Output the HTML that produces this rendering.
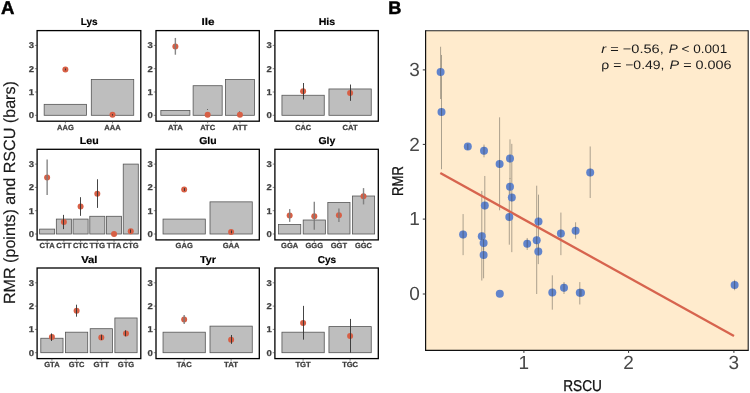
<!DOCTYPE html><html><head><meta charset="utf-8"><style>html,body{margin:0;padding:0;background:#fff;width:750px;height:393px;overflow:hidden}svg{display:block;will-change:transform}text{font-family:"Liberation Sans",sans-serif;text-rendering:geometricPrecision}</style></head><body>
<svg width="750" height="393" viewBox="0 0 750 393">
<rect x="0" y="0" width="750" height="393" fill="#fff"/>
<text x="0.9" y="14.0" font-size="18.6" font-weight="bold" fill="#000" stroke="#000" stroke-width="0.45">A</text>
<text transform="translate(15.1,192.6) rotate(-90)" text-anchor="middle" font-size="16.2" fill="#1a1a1a" stroke="#1a1a1a" stroke-width="0.15" textLength="223" lengthAdjust="spacingAndGlyphs">RMR (points) and RSCU (bars)</text>
<text x="89.25" y="25.10" text-anchor="middle" font-size="10.0" font-weight="bold" fill="#000" stroke="#000" stroke-width="0.2" textLength="16.89" lengthAdjust="spacingAndGlyphs">Lys</text>
<rect x="44.17" y="104.35" width="42.42" height="10.95" fill="#bebebe" stroke="#555" stroke-width="0.8"/>
<rect x="91.31" y="79.42" width="42.42" height="35.88" fill="#bebebe" stroke="#555" stroke-width="0.8"/>
<circle cx="65.38" cy="69.40" r="3.0" fill="#d75f45"/>
<line x1="65.50" y1="68.47" x2="65.50" y2="70.33" stroke="#303030" stroke-width="0.9"/>
<circle cx="112.52" cy="114.83" r="3.0" fill="#d75f45"/>
<line x1="112.50" y1="114.14" x2="112.50" y2="115.53" stroke="#303030" stroke-width="0.9"/>
<rect x="37.1" y="30.6" width="103.70" height="90.6" fill="none" stroke="#000" stroke-width="1.3"/>
<line x1="34.90" y1="115.30" x2="37.10" y2="115.30" stroke="#333" stroke-width="0.6"/>
<text transform="translate(34.00,118.35) scale(1.12,1)" text-anchor="end" font-size="8.5" font-weight="bold" fill="#3f3f3f" stroke="#3f3f3f" stroke-width="0.25">0</text>
<line x1="34.90" y1="92.00" x2="37.10" y2="92.00" stroke="#333" stroke-width="0.6"/>
<text transform="translate(34.00,95.05) scale(1.12,1)" text-anchor="end" font-size="8.5" font-weight="bold" fill="#3f3f3f" stroke="#3f3f3f" stroke-width="0.25">1</text>
<line x1="34.90" y1="68.70" x2="37.10" y2="68.70" stroke="#333" stroke-width="0.6"/>
<text transform="translate(34.00,71.75) scale(1.12,1)" text-anchor="end" font-size="8.5" font-weight="bold" fill="#3f3f3f" stroke="#3f3f3f" stroke-width="0.25">2</text>
<line x1="34.90" y1="45.40" x2="37.10" y2="45.40" stroke="#333" stroke-width="0.6"/>
<text transform="translate(34.00,48.45) scale(1.12,1)" text-anchor="end" font-size="8.5" font-weight="bold" fill="#3f3f3f" stroke="#3f3f3f" stroke-width="0.25">3</text>
<line x1="65.38" y1="121.20" x2="65.38" y2="123.40" stroke="#333" stroke-width="0.6"/>
<text x="65.38" y="129.60" text-anchor="middle" font-size="7.4" font-weight="bold" fill="#3f3f3f" stroke="#3f3f3f" stroke-width="0.25" textLength="16.82" lengthAdjust="spacingAndGlyphs">AAG</text>
<line x1="112.52" y1="121.20" x2="112.52" y2="123.40" stroke="#333" stroke-width="0.6"/>
<text x="112.52" y="129.60" text-anchor="middle" font-size="7.4" font-weight="bold" fill="#3f3f3f" stroke="#3f3f3f" stroke-width="0.25" textLength="16.48" lengthAdjust="spacingAndGlyphs">AAA</text>
<text x="207.95" y="25.10" text-anchor="middle" font-size="10.0" font-weight="bold" fill="#000" stroke="#000" stroke-width="0.2" textLength="12.96" lengthAdjust="spacingAndGlyphs">Ile</text>
<rect x="160.84" y="110.41" width="29.05" height="4.89" fill="#bebebe" stroke="#555" stroke-width="0.8"/>
<rect x="193.12" y="85.71" width="29.05" height="29.59" fill="#bebebe" stroke="#555" stroke-width="0.8"/>
<rect x="225.40" y="79.42" width="29.05" height="35.88" fill="#bebebe" stroke="#555" stroke-width="0.8"/>
<circle cx="175.37" cy="46.40" r="3.0" fill="#d75f45"/>
<line x1="175.37" y1="37.94" x2="175.37" y2="54.72" stroke="#7a7a7a" stroke-opacity="0.9" stroke-width="1.4"/>
<circle cx="207.65" cy="114.83" r="3.0" fill="#d75f45"/>
<line x1="207.50" y1="109.01" x2="207.50" y2="109.71" stroke="#303030" stroke-width="0.9"/>
<circle cx="239.93" cy="114.83" r="3.0" fill="#d75f45"/>
<line x1="239.50" y1="111.11" x2="239.50" y2="111.57" stroke="#303030" stroke-width="0.9"/>
<rect x="156.0" y="30.6" width="103.30" height="90.6" fill="none" stroke="#000" stroke-width="1.3"/>
<line x1="153.80" y1="115.30" x2="156.00" y2="115.30" stroke="#333" stroke-width="0.6"/>
<text transform="translate(152.90,118.35) scale(1.12,1)" text-anchor="end" font-size="8.5" font-weight="bold" fill="#3f3f3f" stroke="#3f3f3f" stroke-width="0.25">0</text>
<line x1="153.80" y1="92.00" x2="156.00" y2="92.00" stroke="#333" stroke-width="0.6"/>
<text transform="translate(152.90,95.05) scale(1.12,1)" text-anchor="end" font-size="8.5" font-weight="bold" fill="#3f3f3f" stroke="#3f3f3f" stroke-width="0.25">1</text>
<line x1="153.80" y1="68.70" x2="156.00" y2="68.70" stroke="#333" stroke-width="0.6"/>
<text transform="translate(152.90,71.75) scale(1.12,1)" text-anchor="end" font-size="8.5" font-weight="bold" fill="#3f3f3f" stroke="#3f3f3f" stroke-width="0.25">2</text>
<line x1="153.80" y1="45.40" x2="156.00" y2="45.40" stroke="#333" stroke-width="0.6"/>
<text transform="translate(152.90,48.45) scale(1.12,1)" text-anchor="end" font-size="8.5" font-weight="bold" fill="#3f3f3f" stroke="#3f3f3f" stroke-width="0.25">3</text>
<line x1="175.37" y1="121.20" x2="175.37" y2="123.40" stroke="#333" stroke-width="0.6"/>
<text x="175.37" y="129.60" text-anchor="middle" font-size="7.4" font-weight="bold" fill="#3f3f3f" stroke="#3f3f3f" stroke-width="0.25" textLength="14.73" lengthAdjust="spacingAndGlyphs">ATA</text>
<line x1="207.65" y1="121.20" x2="207.65" y2="123.40" stroke="#333" stroke-width="0.6"/>
<text x="207.65" y="129.60" text-anchor="middle" font-size="7.4" font-weight="bold" fill="#3f3f3f" stroke="#3f3f3f" stroke-width="0.25" textLength="15.00" lengthAdjust="spacingAndGlyphs">ATC</text>
<line x1="239.93" y1="121.20" x2="239.93" y2="123.40" stroke="#333" stroke-width="0.6"/>
<text x="239.93" y="129.60" text-anchor="middle" font-size="7.4" font-weight="bold" fill="#3f3f3f" stroke="#3f3f3f" stroke-width="0.25" textLength="14.79" lengthAdjust="spacingAndGlyphs">ATT</text>
<text x="326.90" y="25.10" text-anchor="middle" font-size="10.0" font-weight="bold" fill="#000" stroke="#000" stroke-width="0.2" textLength="16.51" lengthAdjust="spacingAndGlyphs">His</text>
<rect x="281.95" y="95.26" width="42.30" height="20.04" fill="#bebebe" stroke="#555" stroke-width="0.8"/>
<rect x="328.95" y="88.97" width="42.30" height="26.33" fill="#bebebe" stroke="#555" stroke-width="0.8"/>
<circle cx="303.10" cy="91.30" r="3.0" fill="#d75f45"/>
<line x1="303.50" y1="83.01" x2="303.50" y2="99.50" stroke="#303030" stroke-width="0.9"/>
<circle cx="350.10" cy="92.93" r="3.0" fill="#d75f45"/>
<line x1="350.50" y1="84.54" x2="350.50" y2="100.85" stroke="#303030" stroke-width="0.9"/>
<rect x="274.9" y="30.6" width="103.40" height="90.6" fill="none" stroke="#000" stroke-width="1.3"/>
<line x1="272.70" y1="115.30" x2="274.90" y2="115.30" stroke="#333" stroke-width="0.6"/>
<text transform="translate(271.80,118.35) scale(1.12,1)" text-anchor="end" font-size="8.5" font-weight="bold" fill="#3f3f3f" stroke="#3f3f3f" stroke-width="0.25">0</text>
<line x1="272.70" y1="92.00" x2="274.90" y2="92.00" stroke="#333" stroke-width="0.6"/>
<text transform="translate(271.80,95.05) scale(1.12,1)" text-anchor="end" font-size="8.5" font-weight="bold" fill="#3f3f3f" stroke="#3f3f3f" stroke-width="0.25">1</text>
<line x1="272.70" y1="68.70" x2="274.90" y2="68.70" stroke="#333" stroke-width="0.6"/>
<text transform="translate(271.80,71.75) scale(1.12,1)" text-anchor="end" font-size="8.5" font-weight="bold" fill="#3f3f3f" stroke="#3f3f3f" stroke-width="0.25">2</text>
<line x1="272.70" y1="45.40" x2="274.90" y2="45.40" stroke="#333" stroke-width="0.6"/>
<text transform="translate(271.80,48.45) scale(1.12,1)" text-anchor="end" font-size="8.5" font-weight="bold" fill="#3f3f3f" stroke="#3f3f3f" stroke-width="0.25">3</text>
<line x1="303.10" y1="121.20" x2="303.10" y2="123.40" stroke="#333" stroke-width="0.6"/>
<text x="303.10" y="129.60" text-anchor="middle" font-size="7.4" font-weight="bold" fill="#3f3f3f" stroke="#3f3f3f" stroke-width="0.25" textLength="15.92" lengthAdjust="spacingAndGlyphs">CAC</text>
<line x1="350.10" y1="121.20" x2="350.10" y2="123.40" stroke="#333" stroke-width="0.6"/>
<text x="350.10" y="129.60" text-anchor="middle" font-size="7.4" font-weight="bold" fill="#3f3f3f" stroke="#3f3f3f" stroke-width="0.25" textLength="15.00" lengthAdjust="spacingAndGlyphs">CAT</text>
<text x="89.25" y="143.80" text-anchor="middle" font-size="10.0" font-weight="bold" fill="#000" stroke="#000" stroke-width="0.2" textLength="18.85" lengthAdjust="spacingAndGlyphs">Leu</text>
<rect x="39.61" y="229.11" width="15.05" height="4.89" fill="#bebebe" stroke="#555" stroke-width="0.8"/>
<rect x="56.33" y="219.09" width="15.05" height="14.91" fill="#bebebe" stroke="#555" stroke-width="0.8"/>
<rect x="73.06" y="219.09" width="15.05" height="14.91" fill="#bebebe" stroke="#555" stroke-width="0.8"/>
<rect x="89.79" y="216.29" width="15.05" height="17.71" fill="#bebebe" stroke="#555" stroke-width="0.8"/>
<rect x="106.51" y="216.29" width="15.05" height="17.71" fill="#bebebe" stroke="#555" stroke-width="0.8"/>
<rect x="123.24" y="164.10" width="15.05" height="69.90" fill="#bebebe" stroke="#555" stroke-width="0.8"/>
<circle cx="47.14" cy="177.61" r="3.0" fill="#d75f45"/>
<line x1="47.14" y1="159.44" x2="47.14" y2="195.09" stroke="#7a7a7a" stroke-opacity="0.9" stroke-width="1.4"/>
<circle cx="63.86" cy="222.12" r="3.0" fill="#d75f45"/>
<line x1="63.50" y1="214.89" x2="63.50" y2="229.11" stroke="#303030" stroke-width="0.9"/>
<circle cx="80.59" cy="206.51" r="3.0" fill="#d75f45"/>
<line x1="80.50" y1="197.19" x2="80.50" y2="215.83" stroke="#303030" stroke-width="0.9"/>
<circle cx="97.31" cy="193.69" r="3.0" fill="#d75f45"/>
<line x1="97.50" y1="179.25" x2="97.50" y2="207.90" stroke="#303030" stroke-width="0.9"/>
<circle cx="114.04" cy="234.00" r="3.0" fill="#d75f45"/>
<circle cx="130.76" cy="231.20" r="3.0" fill="#d75f45"/>
<line x1="130.50" y1="229.57" x2="130.50" y2="232.84" stroke="#303030" stroke-width="0.9"/>
<rect x="37.1" y="149.3" width="103.70" height="90.6" fill="none" stroke="#000" stroke-width="1.3"/>
<line x1="34.90" y1="234.00" x2="37.10" y2="234.00" stroke="#333" stroke-width="0.6"/>
<text transform="translate(34.00,237.05) scale(1.12,1)" text-anchor="end" font-size="8.5" font-weight="bold" fill="#3f3f3f" stroke="#3f3f3f" stroke-width="0.25">0</text>
<line x1="34.90" y1="210.70" x2="37.10" y2="210.70" stroke="#333" stroke-width="0.6"/>
<text transform="translate(34.00,213.75) scale(1.12,1)" text-anchor="end" font-size="8.5" font-weight="bold" fill="#3f3f3f" stroke="#3f3f3f" stroke-width="0.25">1</text>
<line x1="34.90" y1="187.40" x2="37.10" y2="187.40" stroke="#333" stroke-width="0.6"/>
<text transform="translate(34.00,190.45) scale(1.12,1)" text-anchor="end" font-size="8.5" font-weight="bold" fill="#3f3f3f" stroke="#3f3f3f" stroke-width="0.25">2</text>
<line x1="34.90" y1="164.10" x2="37.10" y2="164.10" stroke="#333" stroke-width="0.6"/>
<text transform="translate(34.00,167.15) scale(1.12,1)" text-anchor="end" font-size="8.5" font-weight="bold" fill="#3f3f3f" stroke="#3f3f3f" stroke-width="0.25">3</text>
<line x1="47.14" y1="239.90" x2="47.14" y2="242.10" stroke="#333" stroke-width="0.6"/>
<text x="47.14" y="248.30" text-anchor="middle" font-size="7.4" font-weight="bold" fill="#3f3f3f" stroke="#3f3f3f" stroke-width="0.25" textLength="15.00" lengthAdjust="spacingAndGlyphs">CTA</text>
<line x1="63.86" y1="239.90" x2="63.86" y2="242.10" stroke="#333" stroke-width="0.6"/>
<text x="63.86" y="248.30" text-anchor="middle" font-size="7.4" font-weight="bold" fill="#3f3f3f" stroke="#3f3f3f" stroke-width="0.25" textLength="15.06" lengthAdjust="spacingAndGlyphs">CTT</text>
<line x1="80.59" y1="239.90" x2="80.59" y2="242.10" stroke="#333" stroke-width="0.6"/>
<text x="80.59" y="248.30" text-anchor="middle" font-size="7.4" font-weight="bold" fill="#3f3f3f" stroke="#3f3f3f" stroke-width="0.25" textLength="15.26" lengthAdjust="spacingAndGlyphs">CTC</text>
<line x1="97.31" y1="239.90" x2="97.31" y2="242.10" stroke="#333" stroke-width="0.6"/>
<text x="97.31" y="248.30" text-anchor="middle" font-size="7.4" font-weight="bold" fill="#3f3f3f" stroke="#3f3f3f" stroke-width="0.25" textLength="15.68" lengthAdjust="spacingAndGlyphs">TTG</text>
<line x1="114.04" y1="239.90" x2="114.04" y2="242.10" stroke="#333" stroke-width="0.6"/>
<text x="114.04" y="248.30" text-anchor="middle" font-size="7.4" font-weight="bold" fill="#3f3f3f" stroke="#3f3f3f" stroke-width="0.25" textLength="14.79" lengthAdjust="spacingAndGlyphs">TTA</text>
<line x1="130.76" y1="239.90" x2="130.76" y2="242.10" stroke="#333" stroke-width="0.6"/>
<text x="130.76" y="248.30" text-anchor="middle" font-size="7.4" font-weight="bold" fill="#3f3f3f" stroke="#3f3f3f" stroke-width="0.25" textLength="15.88" lengthAdjust="spacingAndGlyphs">CTG</text>
<text x="207.95" y="143.80" text-anchor="middle" font-size="10.0" font-weight="bold" fill="#000" stroke="#000" stroke-width="0.2" textLength="17.44" lengthAdjust="spacingAndGlyphs">Glu</text>
<rect x="163.04" y="219.09" width="42.26" height="14.91" fill="#bebebe" stroke="#555" stroke-width="0.8"/>
<rect x="210.00" y="201.85" width="42.26" height="32.15" fill="#bebebe" stroke="#555" stroke-width="0.8"/>
<circle cx="184.17" cy="189.50" r="3.0" fill="#d75f45"/>
<line x1="184.50" y1="188.10" x2="184.50" y2="190.89" stroke="#303030" stroke-width="0.9"/>
<circle cx="231.13" cy="231.90" r="3.0" fill="#d75f45"/>
<line x1="231.50" y1="230.50" x2="231.50" y2="233.30" stroke="#303030" stroke-width="0.9"/>
<rect x="156.0" y="149.3" width="103.30" height="90.6" fill="none" stroke="#000" stroke-width="1.3"/>
<line x1="153.80" y1="234.00" x2="156.00" y2="234.00" stroke="#333" stroke-width="0.6"/>
<text transform="translate(152.90,237.05) scale(1.12,1)" text-anchor="end" font-size="8.5" font-weight="bold" fill="#3f3f3f" stroke="#3f3f3f" stroke-width="0.25">0</text>
<line x1="153.80" y1="210.70" x2="156.00" y2="210.70" stroke="#333" stroke-width="0.6"/>
<text transform="translate(152.90,213.75) scale(1.12,1)" text-anchor="end" font-size="8.5" font-weight="bold" fill="#3f3f3f" stroke="#3f3f3f" stroke-width="0.25">1</text>
<line x1="153.80" y1="187.40" x2="156.00" y2="187.40" stroke="#333" stroke-width="0.6"/>
<text transform="translate(152.90,190.45) scale(1.12,1)" text-anchor="end" font-size="8.5" font-weight="bold" fill="#3f3f3f" stroke="#3f3f3f" stroke-width="0.25">2</text>
<line x1="153.80" y1="164.10" x2="156.00" y2="164.10" stroke="#333" stroke-width="0.6"/>
<text transform="translate(152.90,167.15) scale(1.12,1)" text-anchor="end" font-size="8.5" font-weight="bold" fill="#3f3f3f" stroke="#3f3f3f" stroke-width="0.25">3</text>
<line x1="184.17" y1="239.90" x2="184.17" y2="242.10" stroke="#333" stroke-width="0.6"/>
<text x="184.17" y="248.30" text-anchor="middle" font-size="7.4" font-weight="bold" fill="#3f3f3f" stroke="#3f3f3f" stroke-width="0.25" textLength="17.15" lengthAdjust="spacingAndGlyphs">GAG</text>
<line x1="231.13" y1="239.90" x2="231.13" y2="242.10" stroke="#333" stroke-width="0.6"/>
<text x="231.13" y="248.30" text-anchor="middle" font-size="7.4" font-weight="bold" fill="#3f3f3f" stroke="#3f3f3f" stroke-width="0.25" textLength="16.82" lengthAdjust="spacingAndGlyphs">GAA</text>
<text x="326.90" y="143.80" text-anchor="middle" font-size="10.0" font-weight="bold" fill="#000" stroke="#000" stroke-width="0.2" textLength="16.88" lengthAdjust="spacingAndGlyphs">Gly</text>
<rect x="278.59" y="224.45" width="22.16" height="9.55" fill="#bebebe" stroke="#555" stroke-width="0.8"/>
<rect x="303.21" y="220.02" width="22.16" height="13.98" fill="#bebebe" stroke="#555" stroke-width="0.8"/>
<rect x="327.83" y="202.54" width="22.16" height="31.46" fill="#bebebe" stroke="#555" stroke-width="0.8"/>
<rect x="352.45" y="196.02" width="22.16" height="37.98" fill="#bebebe" stroke="#555" stroke-width="0.8"/>
<circle cx="289.67" cy="215.59" r="3.0" fill="#d75f45"/>
<line x1="289.67" y1="209.07" x2="289.67" y2="221.88" stroke="#7a7a7a" stroke-opacity="0.9" stroke-width="1.4"/>
<circle cx="314.29" cy="216.29" r="3.0" fill="#d75f45"/>
<line x1="314.29" y1="201.85" x2="314.29" y2="229.81" stroke="#7a7a7a" stroke-opacity="0.9" stroke-width="1.4"/>
<circle cx="338.91" cy="215.13" r="3.0" fill="#d75f45"/>
<line x1="338.91" y1="208.60" x2="338.91" y2="221.88" stroke="#7a7a7a" stroke-opacity="0.9" stroke-width="1.4"/>
<circle cx="363.53" cy="196.25" r="3.0" fill="#d75f45"/>
<line x1="363.53" y1="188.10" x2="363.53" y2="204.41" stroke="#7a7a7a" stroke-opacity="0.9" stroke-width="1.4"/>
<rect x="274.9" y="149.3" width="103.40" height="90.6" fill="none" stroke="#000" stroke-width="1.3"/>
<line x1="272.70" y1="234.00" x2="274.90" y2="234.00" stroke="#333" stroke-width="0.6"/>
<text transform="translate(271.80,237.05) scale(1.12,1)" text-anchor="end" font-size="8.5" font-weight="bold" fill="#3f3f3f" stroke="#3f3f3f" stroke-width="0.25">0</text>
<line x1="272.70" y1="210.70" x2="274.90" y2="210.70" stroke="#333" stroke-width="0.6"/>
<text transform="translate(271.80,213.75) scale(1.12,1)" text-anchor="end" font-size="8.5" font-weight="bold" fill="#3f3f3f" stroke="#3f3f3f" stroke-width="0.25">1</text>
<line x1="272.70" y1="187.40" x2="274.90" y2="187.40" stroke="#333" stroke-width="0.6"/>
<text transform="translate(271.80,190.45) scale(1.12,1)" text-anchor="end" font-size="8.5" font-weight="bold" fill="#3f3f3f" stroke="#3f3f3f" stroke-width="0.25">2</text>
<line x1="272.70" y1="164.10" x2="274.90" y2="164.10" stroke="#333" stroke-width="0.6"/>
<text transform="translate(271.80,167.15) scale(1.12,1)" text-anchor="end" font-size="8.5" font-weight="bold" fill="#3f3f3f" stroke="#3f3f3f" stroke-width="0.25">3</text>
<line x1="289.67" y1="239.90" x2="289.67" y2="242.10" stroke="#333" stroke-width="0.6"/>
<text x="289.67" y="248.30" text-anchor="middle" font-size="7.4" font-weight="bold" fill="#3f3f3f" stroke="#3f3f3f" stroke-width="0.25" textLength="17.15" lengthAdjust="spacingAndGlyphs">GGA</text>
<line x1="314.29" y1="239.90" x2="314.29" y2="242.10" stroke="#333" stroke-width="0.6"/>
<text x="314.29" y="248.30" text-anchor="middle" font-size="7.4" font-weight="bold" fill="#3f3f3f" stroke="#3f3f3f" stroke-width="0.25" textLength="17.48" lengthAdjust="spacingAndGlyphs">GGG</text>
<line x1="338.91" y1="239.90" x2="338.91" y2="242.10" stroke="#333" stroke-width="0.6"/>
<text x="338.91" y="248.30" text-anchor="middle" font-size="7.4" font-weight="bold" fill="#3f3f3f" stroke="#3f3f3f" stroke-width="0.25" textLength="16.37" lengthAdjust="spacingAndGlyphs">GGT</text>
<line x1="363.53" y1="239.90" x2="363.53" y2="242.10" stroke="#333" stroke-width="0.6"/>
<text x="363.53" y="248.30" text-anchor="middle" font-size="7.4" font-weight="bold" fill="#3f3f3f" stroke="#3f3f3f" stroke-width="0.25" textLength="16.87" lengthAdjust="spacingAndGlyphs">GGC</text>
<text x="89.25" y="262.50" text-anchor="middle" font-size="10.0" font-weight="bold" fill="#000" stroke="#000" stroke-width="0.2" textLength="16.15" lengthAdjust="spacingAndGlyphs">Val</text>
<rect x="40.80" y="338.25" width="22.22" height="14.45" fill="#bebebe" stroke="#555" stroke-width="0.8"/>
<rect x="65.49" y="332.20" width="22.22" height="20.50" fill="#bebebe" stroke="#555" stroke-width="0.8"/>
<rect x="90.18" y="328.70" width="22.22" height="24.00" fill="#bebebe" stroke="#555" stroke-width="0.8"/>
<rect x="114.88" y="317.98" width="22.22" height="34.72" fill="#bebebe" stroke="#555" stroke-width="0.8"/>
<circle cx="51.91" cy="337.00" r="3.0" fill="#d75f45"/>
<line x1="51.50" y1="333.41" x2="51.50" y2="341.00" stroke="#303030" stroke-width="0.9"/>
<circle cx="76.60" cy="310.76" r="3.0" fill="#d75f45"/>
<line x1="76.50" y1="304.70" x2="76.50" y2="316.70" stroke="#303030" stroke-width="0.9"/>
<circle cx="101.30" cy="337.39" r="3.0" fill="#d75f45"/>
<line x1="101.50" y1="334.69" x2="101.50" y2="340.00" stroke="#303030" stroke-width="0.9"/>
<circle cx="125.99" cy="333.41" r="3.0" fill="#d75f45"/>
<line x1="125.50" y1="330.31" x2="125.50" y2="336.30" stroke="#303030" stroke-width="0.9"/>
<rect x="37.1" y="268.0" width="103.70" height="90.6" fill="none" stroke="#000" stroke-width="1.3"/>
<line x1="34.90" y1="352.70" x2="37.10" y2="352.70" stroke="#333" stroke-width="0.6"/>
<text transform="translate(34.00,355.75) scale(1.12,1)" text-anchor="end" font-size="8.5" font-weight="bold" fill="#3f3f3f" stroke="#3f3f3f" stroke-width="0.25">0</text>
<line x1="34.90" y1="329.40" x2="37.10" y2="329.40" stroke="#333" stroke-width="0.6"/>
<text transform="translate(34.00,332.45) scale(1.12,1)" text-anchor="end" font-size="8.5" font-weight="bold" fill="#3f3f3f" stroke="#3f3f3f" stroke-width="0.25">1</text>
<line x1="34.90" y1="306.10" x2="37.10" y2="306.10" stroke="#333" stroke-width="0.6"/>
<text transform="translate(34.00,309.15) scale(1.12,1)" text-anchor="end" font-size="8.5" font-weight="bold" fill="#3f3f3f" stroke="#3f3f3f" stroke-width="0.25">2</text>
<line x1="34.90" y1="282.80" x2="37.10" y2="282.80" stroke="#333" stroke-width="0.6"/>
<text transform="translate(34.00,285.85) scale(1.12,1)" text-anchor="end" font-size="8.5" font-weight="bold" fill="#3f3f3f" stroke="#3f3f3f" stroke-width="0.25">3</text>
<line x1="51.91" y1="358.60" x2="51.91" y2="360.80" stroke="#333" stroke-width="0.6"/>
<text x="51.91" y="367.00" text-anchor="middle" font-size="7.4" font-weight="bold" fill="#3f3f3f" stroke="#3f3f3f" stroke-width="0.25" textLength="15.49" lengthAdjust="spacingAndGlyphs">GTA</text>
<line x1="76.60" y1="358.60" x2="76.60" y2="360.80" stroke="#333" stroke-width="0.6"/>
<text x="76.60" y="367.00" text-anchor="middle" font-size="7.4" font-weight="bold" fill="#3f3f3f" stroke="#3f3f3f" stroke-width="0.25" textLength="15.76" lengthAdjust="spacingAndGlyphs">GTC</text>
<line x1="101.30" y1="358.60" x2="101.30" y2="360.80" stroke="#333" stroke-width="0.6"/>
<text x="101.30" y="367.00" text-anchor="middle" font-size="7.4" font-weight="bold" fill="#3f3f3f" stroke="#3f3f3f" stroke-width="0.25" textLength="15.55" lengthAdjust="spacingAndGlyphs">GTT</text>
<line x1="125.99" y1="358.60" x2="125.99" y2="360.80" stroke="#333" stroke-width="0.6"/>
<text x="125.99" y="367.00" text-anchor="middle" font-size="7.4" font-weight="bold" fill="#3f3f3f" stroke="#3f3f3f" stroke-width="0.25" textLength="16.37" lengthAdjust="spacingAndGlyphs">GTG</text>
<text x="207.95" y="262.50" text-anchor="middle" font-size="10.0" font-weight="bold" fill="#000" stroke="#000" stroke-width="0.2" textLength="15.89" lengthAdjust="spacingAndGlyphs">Tyr</text>
<rect x="163.04" y="332.20" width="42.26" height="20.50" fill="#bebebe" stroke="#555" stroke-width="0.8"/>
<rect x="210.00" y="326.14" width="42.26" height="26.56" fill="#bebebe" stroke="#555" stroke-width="0.8"/>
<circle cx="184.17" cy="319.50" r="3.0" fill="#d75f45"/>
<line x1="184.17" y1="315.09" x2="184.17" y2="323.90" stroke="#7a7a7a" stroke-opacity="0.9" stroke-width="1.4"/>
<circle cx="231.13" cy="339.70" r="3.0" fill="#d75f45"/>
<line x1="231.50" y1="334.99" x2="231.50" y2="343.89" stroke="#303030" stroke-width="0.9"/>
<rect x="156.0" y="268.0" width="103.30" height="90.6" fill="none" stroke="#000" stroke-width="1.3"/>
<line x1="153.80" y1="352.70" x2="156.00" y2="352.70" stroke="#333" stroke-width="0.6"/>
<text transform="translate(152.90,355.75) scale(1.12,1)" text-anchor="end" font-size="8.5" font-weight="bold" fill="#3f3f3f" stroke="#3f3f3f" stroke-width="0.25">0</text>
<line x1="153.80" y1="329.40" x2="156.00" y2="329.40" stroke="#333" stroke-width="0.6"/>
<text transform="translate(152.90,332.45) scale(1.12,1)" text-anchor="end" font-size="8.5" font-weight="bold" fill="#3f3f3f" stroke="#3f3f3f" stroke-width="0.25">1</text>
<line x1="153.80" y1="306.10" x2="156.00" y2="306.10" stroke="#333" stroke-width="0.6"/>
<text transform="translate(152.90,309.15) scale(1.12,1)" text-anchor="end" font-size="8.5" font-weight="bold" fill="#3f3f3f" stroke="#3f3f3f" stroke-width="0.25">2</text>
<line x1="153.80" y1="282.80" x2="156.00" y2="282.80" stroke="#333" stroke-width="0.6"/>
<text transform="translate(152.90,285.85) scale(1.12,1)" text-anchor="end" font-size="8.5" font-weight="bold" fill="#3f3f3f" stroke="#3f3f3f" stroke-width="0.25">3</text>
<line x1="184.17" y1="358.60" x2="184.17" y2="360.80" stroke="#333" stroke-width="0.6"/>
<text x="184.17" y="367.00" text-anchor="middle" font-size="7.4" font-weight="bold" fill="#3f3f3f" stroke="#3f3f3f" stroke-width="0.25" textLength="15.00" lengthAdjust="spacingAndGlyphs">TAC</text>
<line x1="231.13" y1="358.60" x2="231.13" y2="360.80" stroke="#333" stroke-width="0.6"/>
<text x="231.13" y="367.00" text-anchor="middle" font-size="7.4" font-weight="bold" fill="#3f3f3f" stroke="#3f3f3f" stroke-width="0.25" textLength="14.08" lengthAdjust="spacingAndGlyphs">TAT</text>
<text x="326.90" y="262.50" text-anchor="middle" font-size="10.0" font-weight="bold" fill="#000" stroke="#000" stroke-width="0.2" textLength="18.42" lengthAdjust="spacingAndGlyphs">Cys</text>
<rect x="281.95" y="332.20" width="42.30" height="20.50" fill="#bebebe" stroke="#555" stroke-width="0.8"/>
<rect x="328.95" y="326.60" width="42.30" height="26.10" fill="#bebebe" stroke="#555" stroke-width="0.8"/>
<circle cx="303.10" cy="323.11" r="3.0" fill="#d75f45"/>
<line x1="303.50" y1="305.87" x2="303.50" y2="339.65" stroke="#303030" stroke-width="0.9"/>
<circle cx="350.10" cy="335.92" r="3.0" fill="#d75f45"/>
<line x1="350.50" y1="318.91" x2="350.50" y2="352.70" stroke="#303030" stroke-width="0.9"/>
<rect x="274.9" y="268.0" width="103.40" height="90.6" fill="none" stroke="#000" stroke-width="1.3"/>
<line x1="272.70" y1="352.70" x2="274.90" y2="352.70" stroke="#333" stroke-width="0.6"/>
<text transform="translate(271.80,355.75) scale(1.12,1)" text-anchor="end" font-size="8.5" font-weight="bold" fill="#3f3f3f" stroke="#3f3f3f" stroke-width="0.25">0</text>
<line x1="272.70" y1="329.40" x2="274.90" y2="329.40" stroke="#333" stroke-width="0.6"/>
<text transform="translate(271.80,332.45) scale(1.12,1)" text-anchor="end" font-size="8.5" font-weight="bold" fill="#3f3f3f" stroke="#3f3f3f" stroke-width="0.25">1</text>
<line x1="272.70" y1="306.10" x2="274.90" y2="306.10" stroke="#333" stroke-width="0.6"/>
<text transform="translate(271.80,309.15) scale(1.12,1)" text-anchor="end" font-size="8.5" font-weight="bold" fill="#3f3f3f" stroke="#3f3f3f" stroke-width="0.25">2</text>
<line x1="272.70" y1="282.80" x2="274.90" y2="282.80" stroke="#333" stroke-width="0.6"/>
<text transform="translate(271.80,285.85) scale(1.12,1)" text-anchor="end" font-size="8.5" font-weight="bold" fill="#3f3f3f" stroke="#3f3f3f" stroke-width="0.25">3</text>
<line x1="303.10" y1="358.60" x2="303.10" y2="360.80" stroke="#333" stroke-width="0.6"/>
<text x="303.10" y="367.00" text-anchor="middle" font-size="7.4" font-weight="bold" fill="#3f3f3f" stroke="#3f3f3f" stroke-width="0.25" textLength="15.39" lengthAdjust="spacingAndGlyphs">TGT</text>
<line x1="350.10" y1="358.60" x2="350.10" y2="360.80" stroke="#333" stroke-width="0.6"/>
<text x="350.10" y="367.00" text-anchor="middle" font-size="7.4" font-weight="bold" fill="#3f3f3f" stroke="#3f3f3f" stroke-width="0.25" textLength="15.88" lengthAdjust="spacingAndGlyphs">TGC</text>
<text x="388.3" y="13.9" font-size="18.2" font-weight="bold" fill="#000" stroke="#000" stroke-width="0.5">B</text>
<rect x="425.6" y="30.8" width="322.60" height="319.50" fill="#ffebcd"/>
<line x1="440.60" y1="46.74" x2="440.60" y2="99.03" stroke="#6e6a60" stroke-opacity="0.58" stroke-width="1"/>
<line x1="441.50" y1="54.96" x2="441.50" y2="169.25" stroke="#6e6a60" stroke-opacity="0.58" stroke-width="1"/>
<line x1="467.80" y1="143.85" x2="467.80" y2="149.83" stroke="#6e6a60" stroke-opacity="0.58" stroke-width="1"/>
<line x1="484.00" y1="144.60" x2="484.00" y2="157.30" stroke="#6e6a60" stroke-opacity="0.58" stroke-width="1"/>
<line x1="499.60" y1="117.33" x2="499.60" y2="210.34" stroke="#6e6a60" stroke-opacity="0.58" stroke-width="1"/>
<line x1="510.00" y1="139.37" x2="510.00" y2="178.96" stroke="#6e6a60" stroke-opacity="0.58" stroke-width="1"/>
<line x1="510.00" y1="178.21" x2="510.00" y2="196.89" stroke="#6e6a60" stroke-opacity="0.58" stroke-width="1"/>
<line x1="511.80" y1="143.85" x2="511.80" y2="252.17" stroke="#6e6a60" stroke-opacity="0.58" stroke-width="1"/>
<line x1="484.80" y1="175.97" x2="484.80" y2="235.73" stroke="#6e6a60" stroke-opacity="0.58" stroke-width="1"/>
<line x1="509.30" y1="190.17" x2="509.30" y2="244.70" stroke="#6e6a60" stroke-opacity="0.58" stroke-width="1"/>
<line x1="538.50" y1="194.65" x2="538.50" y2="249.18" stroke="#6e6a60" stroke-opacity="0.58" stroke-width="1"/>
<line x1="463.10" y1="214.07" x2="463.10" y2="255.16" stroke="#6e6a60" stroke-opacity="0.58" stroke-width="1"/>
<line x1="481.80" y1="190.91" x2="481.80" y2="280.55" stroke="#6e6a60" stroke-opacity="0.58" stroke-width="1"/>
<line x1="483.60" y1="234.99" x2="483.60" y2="250.67" stroke="#6e6a60" stroke-opacity="0.58" stroke-width="1"/>
<line x1="483.60" y1="232.75" x2="483.60" y2="278.31" stroke="#6e6a60" stroke-opacity="0.58" stroke-width="1"/>
<line x1="527.20" y1="237.97" x2="527.20" y2="249.93" stroke="#6e6a60" stroke-opacity="0.58" stroke-width="1"/>
<line x1="536.70" y1="185.69" x2="536.70" y2="294.00" stroke="#6e6a60" stroke-opacity="0.58" stroke-width="1"/>
<line x1="538.30" y1="240.22" x2="538.30" y2="264.12" stroke="#6e6a60" stroke-opacity="0.58" stroke-width="1"/>
<line x1="590.20" y1="146.47" x2="590.20" y2="198.01" stroke="#6e6a60" stroke-opacity="0.58" stroke-width="1"/>
<line x1="560.90" y1="212.58" x2="560.90" y2="255.16" stroke="#6e6a60" stroke-opacity="0.58" stroke-width="1"/>
<line x1="575.60" y1="222.29" x2="575.60" y2="238.72" stroke="#6e6a60" stroke-opacity="0.58" stroke-width="1"/>
<line x1="552.30" y1="275.32" x2="552.30" y2="309.69" stroke="#6e6a60" stroke-opacity="0.58" stroke-width="1"/>
<line x1="564.00" y1="282.05" x2="564.00" y2="294.00" stroke="#6e6a60" stroke-opacity="0.58" stroke-width="1"/>
<line x1="579.80" y1="282.05" x2="579.80" y2="304.46" stroke="#6e6a60" stroke-opacity="0.58" stroke-width="1"/>
<line x1="581.00" y1="289.52" x2="581.00" y2="296.24" stroke="#6e6a60" stroke-opacity="0.58" stroke-width="1"/>
<line x1="734.60" y1="279.81" x2="734.60" y2="290.26" stroke="#6e6a60" stroke-opacity="0.58" stroke-width="1"/>
<line x1="440.3" y1="173.0" x2="734.0" y2="336.0" stroke="#d7644e" stroke-width="2.3"/>
<circle cx="440.60" cy="72.00" r="4.0" fill="#6184cc"/>
<circle cx="441.50" cy="112.00" r="4.0" fill="#6184cc"/>
<circle cx="467.80" cy="146.40" r="4.0" fill="#6184cc"/>
<circle cx="484.00" cy="150.70" r="4.0" fill="#6184cc"/>
<circle cx="499.60" cy="163.90" r="4.0" fill="#6184cc"/>
<circle cx="510.00" cy="158.60" r="4.0" fill="#6184cc"/>
<circle cx="510.00" cy="186.70" r="4.0" fill="#6184cc"/>
<circle cx="511.80" cy="197.60" r="4.0" fill="#6184cc"/>
<circle cx="484.80" cy="205.60" r="4.0" fill="#6184cc"/>
<circle cx="509.30" cy="217.10" r="4.0" fill="#6184cc"/>
<circle cx="538.50" cy="221.50" r="4.0" fill="#6184cc"/>
<circle cx="463.10" cy="234.60" r="4.0" fill="#6184cc"/>
<circle cx="481.80" cy="236.20" r="4.0" fill="#6184cc"/>
<circle cx="483.60" cy="243.10" r="4.0" fill="#6184cc"/>
<circle cx="483.60" cy="255.00" r="4.0" fill="#6184cc"/>
<circle cx="499.80" cy="293.80" r="4.0" fill="#6184cc"/>
<circle cx="527.20" cy="243.70" r="4.0" fill="#6184cc"/>
<circle cx="536.70" cy="240.30" r="4.0" fill="#6184cc"/>
<circle cx="538.30" cy="251.60" r="4.0" fill="#6184cc"/>
<circle cx="590.20" cy="172.50" r="4.0" fill="#6184cc"/>
<circle cx="560.90" cy="233.40" r="4.0" fill="#6184cc"/>
<circle cx="575.60" cy="230.80" r="4.0" fill="#6184cc"/>
<circle cx="552.30" cy="292.50" r="4.0" fill="#6184cc"/>
<circle cx="564.00" cy="287.80" r="4.0" fill="#6184cc"/>
<circle cx="579.80" cy="292.70" r="4.0" fill="#6184cc"/>
<circle cx="581.00" cy="292.70" r="4.0" fill="#6184cc"/>
<circle cx="734.60" cy="285.00" r="4.0" fill="#6184cc"/>
<line x1="440.60" y1="68.00" x2="440.60" y2="76.00" stroke="#3a3a3a" stroke-opacity="0.45" stroke-width="1"/>
<line x1="441.50" y1="108.00" x2="441.50" y2="116.00" stroke="#3a3a3a" stroke-opacity="0.45" stroke-width="1"/>
<line x1="467.80" y1="143.85" x2="467.80" y2="149.83" stroke="#3a3a3a" stroke-opacity="0.45" stroke-width="1"/>
<line x1="484.00" y1="146.70" x2="484.00" y2="154.70" stroke="#3a3a3a" stroke-opacity="0.45" stroke-width="1"/>
<line x1="499.60" y1="159.90" x2="499.60" y2="167.90" stroke="#3a3a3a" stroke-opacity="0.45" stroke-width="1"/>
<line x1="510.00" y1="154.60" x2="510.00" y2="162.60" stroke="#3a3a3a" stroke-opacity="0.45" stroke-width="1"/>
<line x1="510.00" y1="182.70" x2="510.00" y2="190.70" stroke="#3a3a3a" stroke-opacity="0.45" stroke-width="1"/>
<line x1="511.80" y1="193.60" x2="511.80" y2="201.60" stroke="#3a3a3a" stroke-opacity="0.45" stroke-width="1"/>
<line x1="484.80" y1="201.60" x2="484.80" y2="209.60" stroke="#3a3a3a" stroke-opacity="0.45" stroke-width="1"/>
<line x1="509.30" y1="213.10" x2="509.30" y2="221.10" stroke="#3a3a3a" stroke-opacity="0.45" stroke-width="1"/>
<line x1="538.50" y1="217.50" x2="538.50" y2="225.50" stroke="#3a3a3a" stroke-opacity="0.45" stroke-width="1"/>
<line x1="463.10" y1="230.60" x2="463.10" y2="238.60" stroke="#3a3a3a" stroke-opacity="0.45" stroke-width="1"/>
<line x1="481.80" y1="232.20" x2="481.80" y2="240.20" stroke="#3a3a3a" stroke-opacity="0.45" stroke-width="1"/>
<line x1="483.60" y1="239.10" x2="483.60" y2="247.10" stroke="#3a3a3a" stroke-opacity="0.45" stroke-width="1"/>
<line x1="483.60" y1="251.00" x2="483.60" y2="259.00" stroke="#3a3a3a" stroke-opacity="0.45" stroke-width="1"/>
<line x1="527.20" y1="239.70" x2="527.20" y2="247.70" stroke="#3a3a3a" stroke-opacity="0.45" stroke-width="1"/>
<line x1="536.70" y1="236.30" x2="536.70" y2="244.30" stroke="#3a3a3a" stroke-opacity="0.45" stroke-width="1"/>
<line x1="538.30" y1="247.60" x2="538.30" y2="255.60" stroke="#3a3a3a" stroke-opacity="0.45" stroke-width="1"/>
<line x1="590.20" y1="168.50" x2="590.20" y2="176.50" stroke="#3a3a3a" stroke-opacity="0.45" stroke-width="1"/>
<line x1="560.90" y1="229.40" x2="560.90" y2="237.40" stroke="#3a3a3a" stroke-opacity="0.45" stroke-width="1"/>
<line x1="575.60" y1="226.80" x2="575.60" y2="234.80" stroke="#3a3a3a" stroke-opacity="0.45" stroke-width="1"/>
<line x1="552.30" y1="288.50" x2="552.30" y2="296.50" stroke="#3a3a3a" stroke-opacity="0.45" stroke-width="1"/>
<line x1="564.00" y1="283.80" x2="564.00" y2="291.80" stroke="#3a3a3a" stroke-opacity="0.45" stroke-width="1"/>
<line x1="579.80" y1="288.70" x2="579.80" y2="296.70" stroke="#3a3a3a" stroke-opacity="0.45" stroke-width="1"/>
<line x1="581.00" y1="289.52" x2="581.00" y2="296.24" stroke="#3a3a3a" stroke-opacity="0.45" stroke-width="1"/>
<line x1="734.60" y1="281.00" x2="734.60" y2="289.00" stroke="#3a3a3a" stroke-opacity="0.45" stroke-width="1"/>
<line x1="425.6" y1="30.8" x2="748.2" y2="30.8" stroke="#222" stroke-width="1.1"/>
<line x1="748.2" y1="30.3" x2="748.2" y2="350.90000000000003" stroke="#1a1a1a" stroke-width="1.1"/>
<line x1="425.6" y1="30.3" x2="425.6" y2="350.90000000000003" stroke="#111" stroke-width="1.2"/>
<line x1="425.0" y1="350.3" x2="748.2" y2="350.3" stroke="#111" stroke-width="1.2"/>
<line x1="422.80" y1="69.9" x2="425.6" y2="69.9" stroke="#333" stroke-width="1.0"/>
<text x="419.80" y="76.00" text-anchor="end" font-size="19" fill="#484848">3</text>
<line x1="422.80" y1="144.4" x2="425.6" y2="144.4" stroke="#333" stroke-width="1.0"/>
<text x="419.80" y="150.50" text-anchor="end" font-size="19" fill="#484848">2</text>
<line x1="422.80" y1="219.1" x2="425.6" y2="219.1" stroke="#333" stroke-width="1.0"/>
<text x="419.80" y="225.20" text-anchor="end" font-size="19" fill="#484848">1</text>
<line x1="422.80" y1="294.0" x2="425.6" y2="294.0" stroke="#333" stroke-width="1.0"/>
<text x="419.80" y="300.10" text-anchor="end" font-size="19" fill="#484848">0</text>
<line x1="523.9" y1="350.3" x2="523.9" y2="352.90" stroke="#333" stroke-width="1.0"/>
<text x="523.90" y="369.30" text-anchor="middle" font-size="19" fill="#484848">1</text>
<line x1="628.6" y1="350.3" x2="628.6" y2="352.90" stroke="#333" stroke-width="1.0"/>
<text x="628.60" y="369.30" text-anchor="middle" font-size="19" fill="#484848">2</text>
<line x1="733.9" y1="350.3" x2="733.9" y2="352.90" stroke="#333" stroke-width="1.0"/>
<text x="733.90" y="369.30" text-anchor="middle" font-size="19" fill="#484848">3</text>
<text x="582.6" y="391.2" text-anchor="middle" font-size="15.6" fill="#111" stroke="#111" stroke-width="0.3" textLength="38.7" lengthAdjust="spacingAndGlyphs">RSCU</text>
<text transform="translate(403.3,181) rotate(-90)" text-anchor="middle" font-size="15.6" fill="#111" stroke="#111" stroke-width="0.3" textLength="29.8" lengthAdjust="spacingAndGlyphs">RMR</text>
<text x="601.3" y="52.8" font-size="12.3" fill="#1a1a1a" textLength="62.4" lengthAdjust="spacingAndGlyphs"><tspan font-style="italic">r</tspan> = −0.56,</text>
<text x="668.8" y="52.8" font-size="12.3" fill="#1a1a1a" textLength="58.4" lengthAdjust="spacingAndGlyphs"><tspan font-style="italic">P</tspan> &lt; 0.001</text>
<text x="601.3" y="68.5" font-size="12.3" fill="#1a1a1a" textLength="63.2" lengthAdjust="spacingAndGlyphs">ρ = −0.49,</text>
<text x="669.6" y="68.5" font-size="12.3" fill="#1a1a1a" textLength="62.0" lengthAdjust="spacingAndGlyphs"><tspan font-style="italic">P</tspan> = 0.006</text>
</svg></body></html>
